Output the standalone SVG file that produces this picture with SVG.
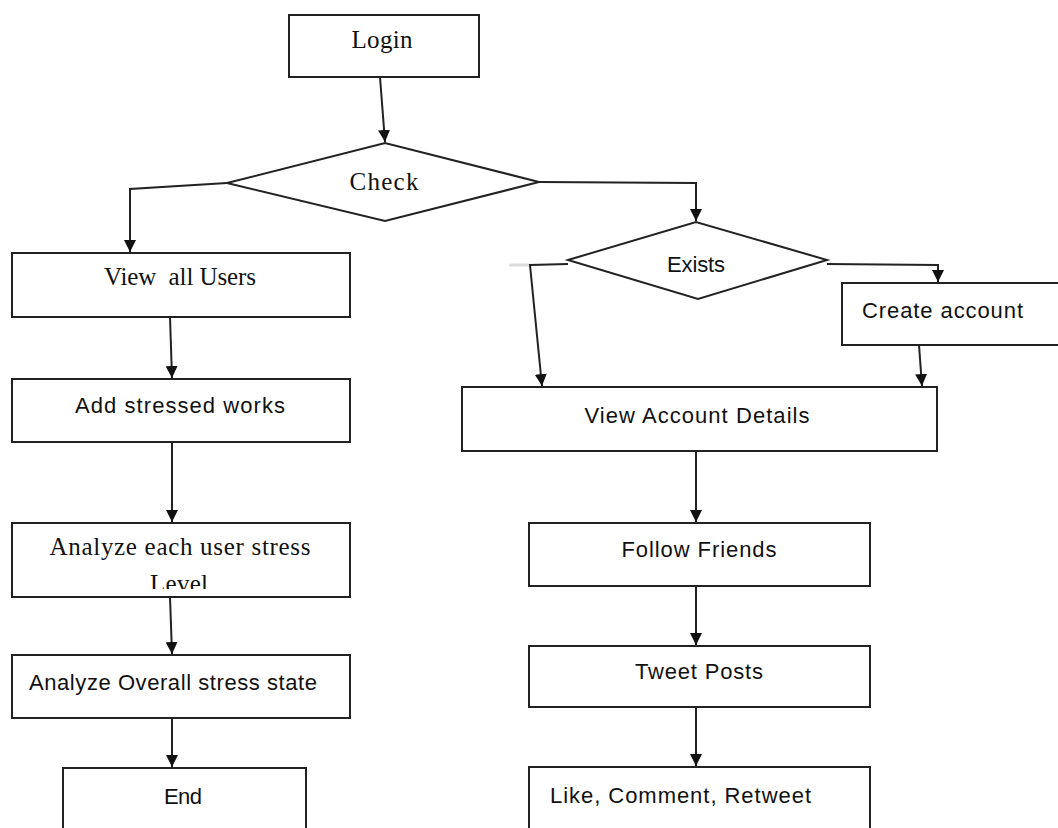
<svg xmlns="http://www.w3.org/2000/svg" width="1058" height="828" viewBox="0 0 1058 828">
<defs>
<style>
.box{fill:#fff;stroke:#222;stroke-width:2}
.con{fill:none;stroke:#222;stroke-width:2}
.serif{font-family:"Liberation Serif","Times New Roman",serif;font-size:25px;fill:#111}
.sans{font-family:"Liberation Sans",Arial,sans-serif;font-size:22px;fill:#111}
</style>
<marker id="arr" markerUnits="userSpaceOnUse" markerWidth="13" markerHeight="12" refX="12" refY="6" orient="auto">
<path d="M0,0 L12,6 L0,12 z" fill="#111"/>
</marker>
<clipPath id="lvlclip"><rect x="0" y="520" width="400" height="69"/></clipPath>
</defs>
<rect width="1058" height="828" fill="#fff"/>
<g id="connectors">
<path class="con" d="M380,77 L385,142" marker-end="url(#arr)"/>
<path class="con" d="M227,183 L130,189 L130,252" marker-end="url(#arr)"/>
<path class="con" d="M539,182 L696,183 L696,221" marker-end="url(#arr)"/>
<path d="M509,265 L530,265" stroke="#ddd" stroke-width="3" fill="none"/>
<path class="con" d="M568,264 L530,265 L542,386" marker-end="url(#arr)"/>
<path class="con" d="M827,264 L938,265 L938,282" marker-end="url(#arr)"/>
<path class="con" d="M919,345 L922,386" marker-end="url(#arr)"/>
<path class="con" d="M170,317 L172,378" marker-end="url(#arr)"/>
<path class="con" d="M172,442 L172,522" marker-end="url(#arr)"/>
<path class="con" d="M170,597 L172,654" marker-end="url(#arr)"/>
<path class="con" d="M172,718 L172,767" marker-end="url(#arr)"/>
<path class="con" d="M696,451 L696,522" marker-end="url(#arr)"/>
<path class="con" d="M696,586 L696,645" marker-end="url(#arr)"/>
<path class="con" d="M696,707 L696,766" marker-end="url(#arr)"/>
</g>
<g id="login">
<rect class="box" x="289" y="15" width="190" height="62"/>
<text class="serif" x="382" y="48" text-anchor="middle" textLength="61">Login</text>
</g>
<g id="check">
<polygon class="box" points="227,183 385,143 539,182 385,221"/>
<text class="serif" x="384" y="190" text-anchor="middle" textLength="69">Check</text>
</g>
<g id="view-all-users">
<rect class="box" x="12" y="253" width="338" height="64"/>
<text class="serif" x="180" y="285" text-anchor="middle" textLength="152" xml:space="preserve">View  all Users</text>
</g>
<g id="add-stressed-works">
<rect class="box" x="12" y="379" width="338" height="63"/>
<text class="sans" x="180" y="413" text-anchor="middle" textLength="210">Add stressed works</text>
</g>
<g id="analyze-each">
<rect class="box" x="12" y="523" width="338" height="74"/>
<text class="serif" x="180" y="555" text-anchor="middle" textLength="261">Analyze each user stress</text>
<text class="serif" x="179" y="592" text-anchor="middle" textLength="58" clip-path="url(#lvlclip)">Level</text>
</g>
<g id="analyze-overall">
<rect class="box" x="12" y="655" width="338" height="63"/>
<text class="sans" x="29" y="690" textLength="288">Analyze Overall stress state</text>
</g>
<g id="end">
<rect class="box" x="63" y="768" width="243" height="80"/>
<text class="sans" x="183" y="804" text-anchor="middle" textLength="38">End</text>
</g>
<g id="exists">
<polygon class="box" points="568,260 696,222 827,260 698,299"/>
<text class="sans" x="696" y="272" text-anchor="middle" textLength="58">Exists</text>
</g>
<g id="create-account">
<rect class="box" x="842" y="283" width="230" height="62"/>
<text class="sans" x="862" y="318" textLength="161">Create account</text>
</g>
<g id="view-account-details">
<rect class="box" x="462" y="387" width="475" height="64"/>
<text class="sans" x="697" y="423" text-anchor="middle" textLength="225">View Account Details</text>
</g>
<g id="follow-friends">
<rect class="box" x="529" y="523" width="341" height="63"/>
<text class="sans" x="699" y="557" text-anchor="middle" textLength="155">Follow Friends</text>
</g>
<g id="tweet-posts">
<rect class="box" x="529" y="646" width="341" height="61"/>
<text class="sans" x="699" y="679" text-anchor="middle" textLength="128">Tweet Posts</text>
</g>
<g id="like-comment-retweet">
<rect class="box" x="529" y="767" width="341" height="80"/>
<text class="sans" x="550" y="803" textLength="261">Like, Comment, Retweet</text>
</g>
</svg>
